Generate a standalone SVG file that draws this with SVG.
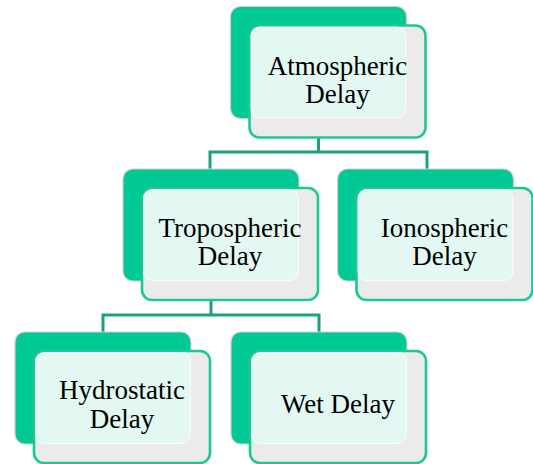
<svg xmlns="http://www.w3.org/2000/svg" width="533" height="464" viewBox="0 0 533 464">
<style>
.back{fill:#00c995;stroke:#cfcfcf;stroke-width:1.2}
.front{fill:#ebebeb;stroke:#1cc996;stroke-width:2.6}
.mint{fill:#e3f8f2;stroke:#ffffff;stroke-width:0.8}
.conn{fill:none;stroke:#1f9f80;stroke-width:3}
text{font-family:"Liberation Serif","Times New Roman",serif;font-size:27px;fill:#000;text-anchor:middle}
</style>
<rect width="533" height="464" fill="#ffffff"/>
<g id="connectors">
<path class="conn" d="M318.5,137 V152 M210,169 V152 H427 V169"/>
<path class="conn" d="M211,300 V315 M103,332 V315 H319 V332"/>
</g>
<g id="atmospheric" transform="translate(230.5,6.5)">
<rect class="back" x="0" y="0" width="176" height="112" rx="10"/>
<rect class="front" x="19" y="19" width="176" height="112" rx="10"/>
<rect class="mint" x="20.5" y="20.5" width="155" height="91" rx="9"/>
<text x="107" y="68">Atmospheric</text>
<text x="107" y="96">Delay</text>
</g>
<g id="tropospheric" transform="translate(123,169)">
<rect class="back" x="0" y="0" width="176" height="112" rx="10"/>
<rect class="front" x="19" y="19" width="176" height="112" rx="10"/>
<rect class="mint" x="20.5" y="20.5" width="155" height="91" rx="9"/>
<text x="107" y="68">Tropospheric</text>
<text x="107" y="96">Delay</text>
</g>
<g id="ionospheric" transform="translate(337.5,169)">
<rect class="back" x="0" y="0" width="176" height="112" rx="10"/>
<rect class="front" x="19" y="19" width="176" height="112" rx="10"/>
<rect class="mint" x="20.5" y="20.5" width="155" height="91" rx="9"/>
<text x="107" y="68">Ionospheric</text>
<text x="107" y="96">Delay</text>
</g>
<g id="hydrostatic" transform="translate(15,332)">
<rect class="back" x="0" y="0" width="176" height="112" rx="10"/>
<rect class="front" x="19" y="19" width="176" height="112" rx="10"/>
<rect class="mint" x="20.5" y="20.5" width="155" height="91" rx="9"/>
<text x="107" y="67">Hydrostatic</text>
<text x="107" y="96">Delay</text>
</g>
<g id="wet" transform="translate(231,332)">
<rect class="back" x="0" y="0" width="176" height="112" rx="10"/>
<rect class="front" x="19" y="19" width="176" height="112" rx="10"/>
<rect class="mint" x="20.5" y="20.5" width="155" height="91" rx="9"/>
<text x="107" y="81">Wet Delay</text>
</g>
</svg>
